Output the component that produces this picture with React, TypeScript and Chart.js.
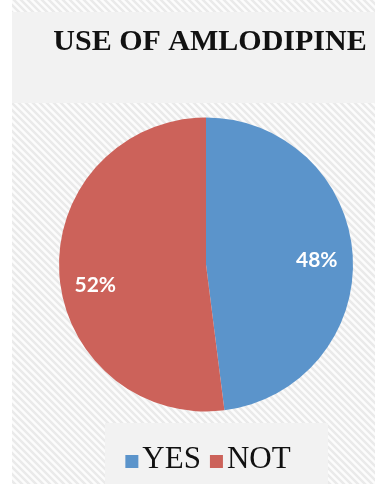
import React, { useEffect, useRef } from "react";
import { Chart, registerables } from "chart.js";

Chart.register(...registerables);

const titleText = "USE OF AMLODIPINE";
const categories = ["YES", "NOT"];
const values = [48, 52];
const sliceColors = ["#5b94cb", "#cc625a"];
const labelOffsetY = [3, 14];

function makeStripePattern(ctx: CanvasRenderingContext2D) {
  const c = document.createElement("canvas");
  c.width = 7;
  c.height = 7;
  const p = c.getContext("2d")!;
  p.fillStyle = "#fcfcfc";
  p.fillRect(0, 0, 7, 7);
  p.strokeStyle = "#eaeaea";
  p.lineWidth = 2.5;
  p.beginPath();
  p.moveTo(-2, -2);
  p.lineTo(9, 9);
  p.moveTo(-9, -2);
  p.lineTo(2, 9);
  p.moveTo(5, -2);
  p.lineTo(16, 9);
  p.stroke();
  return ctx.createPattern(c, "repeat");
}

const backgroundPlugin = {
  id: "bgPanels",
  beforeDraw(chart: any) {
    const { ctx, width, height } = chart;
    ctx.save();
    ctx.fillStyle = "#ffffff";
    ctx.fillRect(0, 0, width, height);
    const pat = makeStripePattern(ctx);
    if (pat) {
      ctx.fillStyle = pat;
      ctx.fillRect(12, 0, width - 12, height);
    }
    ctx.fillStyle = "#f2f2f2";
    ctx.fillRect(12, 12, width - 12, 91);
    ctx.fillRect(105, 423, 223, height - 423);
    // title
    ctx.fillStyle = "#111111";
    ctx.font = "bold 30px 'Liberation Serif'";
    ctx.textAlign = "center";
    ctx.textBaseline = "alphabetic";
    ctx.fillText(titleText, 210, 50);
    ctx.restore();
  },
};

const sliceLabelPlugin = {
  id: "sliceLabels",
  afterDatasetsDraw(chart: any) {
    const { ctx } = chart;
    const meta = chart.getDatasetMeta(0);
    const data = chart.data.datasets[0].data as number[];
    const total = data.reduce((a, b) => a + b, 0);
    ctx.save();
    ctx.fillStyle = "#ffffff";
    ctx.font = "bold 21px Lato";
    ctx.textAlign = "center";
    ctx.textBaseline = "middle";
    meta.data.forEach((arc: any, i: number) => {
      const { x, y, startAngle, endAngle, outerRadius } = arc.getProps(
        ["x", "y", "startAngle", "endAngle", "outerRadius"],
        true
      );
      const mid = (startAngle + endAngle) / 2;
      const r = outerRadius * 0.755;
      const pct = Math.round((data[i] / total) * 100);
      ctx.fillText(pct + "%", x + Math.cos(mid) * r, y + Math.sin(mid) * r + (labelOffsetY[i] || 0));
    });
    ctx.restore();
  },
};

const legendPlugin = {
  id: "customLegend",
  afterDraw(chart: any) {
    const { ctx } = chart;
    const labels = chart.data.labels as string[];
    const colors = chart.data.datasets[0].backgroundColor as string[];
    ctx.save();
    ctx.font = "31px 'Liberation Serif'";
    ctx.textBaseline = "alphabetic";
    const box = 13;
    const gapBox = 4;
    const gapItem = 9;
    let total = 0;
    labels.forEach((l, i) => {
      total += box + gapBox + ctx.measureText(l).width + (i < labels.length - 1 ? gapItem : 0);
    });
    let x = 208 - total / 2;
    const baseline = 468;
    labels.forEach((l, i) => {
      ctx.fillStyle = colors[i];
      ctx.fillRect(x, baseline - box, box, box);
      x += box + gapBox;
      ctx.fillStyle = "#111111";
      ctx.fillText(l, x, baseline);
      x += ctx.measureText(l).width + gapItem;
    });
    ctx.restore();
  },
};

export default function App() {
  const ref = useRef<HTMLCanvasElement>(null);
  useEffect(() => {
    if (!ref.current) return;
    const chart = new Chart(ref.current, {
      type: "pie",
      data: {
        labels: categories,
        datasets: [
          {
            data: values,
            backgroundColor: sliceColors,
            borderWidth: 0,
          },
        ],
      },
      options: {
        responsive: false,
        animation: false,
        layout: { padding: { left: 59, right: 22, top: 117.5, bottom: 72.5 } },
        plugins: {
          legend: { display: false },
          tooltip: { enabled: false },
          title: { display: false },
        },
      },
      plugins: [backgroundPlugin, sliceLabelPlugin, legendPlugin],
    });
    return () => chart.destroy();
  }, []);
  return (
    <div style={{ position: "absolute", left: 0, top: 0, width: 375, height: 484 }}>
      <canvas ref={ref} width={375} height={484} style={{ display: "block" }} />
    </div>
  );
}
